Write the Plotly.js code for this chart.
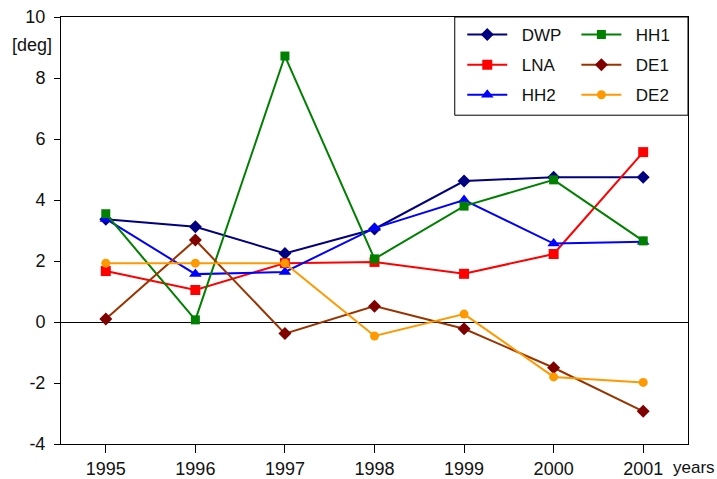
<!DOCTYPE html>
<html>
<head>
<meta charset="utf-8">
<script src="https://cdn.plot.ly/plotly-3.0.1.min.js"></script>
<style>html,body{margin:0;padding:0;background:#fff;}#chart{width:717px;height:479px;}</style>
</head>
<body>
<div id="chart"></div>
<script>
var years = ['1995', '1996', '1997', '1998', '1999', '2000', '2001'];
var DWP = [3.37, 3.12, 2.25, 3.05, 4.62, 4.75, 4.75];
var LNA = [1.67, 1.05, 1.93, 1.97, 1.58, 2.23, 5.57];
var HH2 = [3.38, 1.57, 1.64, 3.08, 4.0, 2.57, 2.63];
var HH1 = [3.55, 0.07, 8.72, 2.07, 3.8, 4.66, 2.66];
var DE1 = [0.1, 2.69, -0.38, 0.52, -0.22, -1.5, -2.93];
var DE2 = [1.93, 1.93, 1.93, -0.46, 0.26, -1.8, -1.98];
var yTicks = [-4, -2, 0, 2, 4, 6, 8, 10];
var yTickLabels = ['-4', '-2', '0', '2', '4', '6', '8', '10'];

var NB = '\u00a0\u00a0';
function tr(name, y, lineColor, markerColor, symbol, size, legend, group) {
  return {
    x: years, y: y, name: NB + name, type: 'scatter', mode: 'lines+markers',
    line: {color: lineColor, width: 2},
    marker: {color: markerColor, symbol: symbol, size: size},
    legend: legend, legendgroup: group
  };
}
var data = [
  tr('DWP', DWP, '#000080', '#000080', 'diamond', 10, 'legend', 'a'),
  tr('LNA', LNA, '#FF0000', '#FF0000', 'square', 10, 'legend', 'b'),
  tr('HH2', HH2, '#0000FF', '#0000FF', 'triangle-up', 11, 'legend', 'c'),
  tr('HH1', HH1, '#008000', '#008000', 'square', 9, 'legend2', 'd'),
  tr('DE1', DE1, '#993300', '#800000', 'diamond', 10, 'legend2', 'e'),
  tr('DE2', DE2, '#FF9900', '#FF9900', 'circle', 9, 'legend2', 'f')
];

var FONT = 'Arial, "Liberation Sans", sans-serif';
var legendCommon = {
  font: {family: FONT, size: 17, color: '#111'},
  bgcolor: 'rgba(0,0,0,0)', borderwidth: 0,
  yanchor: 'top', xanchor: 'left', y: 1.0,
  tracegroupgap: 5, itemwidth: 40
};
var layout = {
  width: 717, height: 479,
  margin: {l: 61, r: 29, t: 17, b: 35},
  paper_bgcolor: '#fff', plot_bgcolor: '#fff',
  showlegend: true,
  legend: Object.assign({}, legendCommon, {x: 0.64}),
  legend2: Object.assign({}, legendCommon, {x: 0.822}),
  xaxis: {
    type: 'category', range: [-0.5, 6.5],
    showline: true, linecolor: '#000', linewidth: 1, mirror: true,
    showgrid: false, zeroline: false,
    ticks: 'outside', ticklen: 8, tickcolor: '#000',
    tickfont: {family: FONT, size: 18, color: '#111'}
  },
  yaxis: {
    range: [-4, 10], tickvals: yTicks, ticktext: yTickLabels,
    showline: true, linecolor: '#000', linewidth: 1, mirror: true,
    showgrid: false, zeroline: true, zerolinecolor: '#000', zerolinewidth: 1,
    ticks: 'outside', ticklen: 6, tickcolor: '#000', ticklabelstandoff: 5,
    tickfont: {family: FONT, size: 18, color: '#111'}
  },
  shapes: [{
    type: 'rect', xref: 'paper', yref: 'paper',
    x0: 0.628, x1: 1, y0: 0.77, y1: 1,
    line: {color: '#000', width: 1}, fillcolor: '#fff', layer: 'below'
  }],
  annotations: [
    {text: '[deg]', xref: 'paper', yref: 'paper', x: -0.046, y: 0.934,
     xanchor: 'center', yanchor: 'middle', showarrow: false,
     font: {family: FONT, size: 18, color: '#111'}},
    {text: 'years', xref: 'paper', yref: 'paper', x: 1.046, y: -0.056,
     xanchor: 'right', yanchor: 'middle', showarrow: false,
     font: {family: FONT, size: 17, color: '#111'}}
  ]
};
Plotly.newPlot('chart', data, layout, {displayModeBar: false, staticPlot: true});
</script>
</body>
</html>
